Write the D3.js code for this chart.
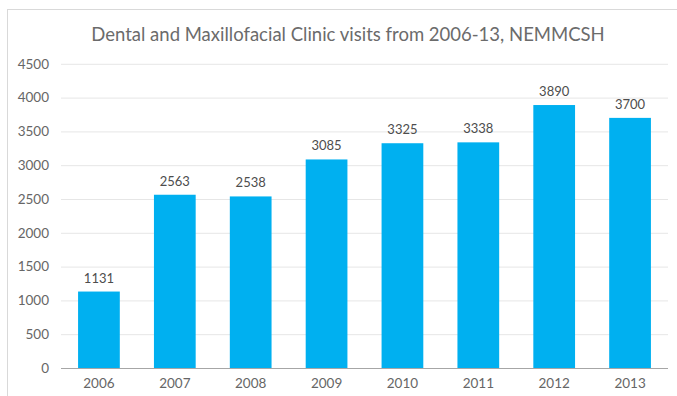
<!DOCTYPE html>
<html><head><meta charset="utf-8">
<script src="https://cdn.jsdelivr.net/npm/d3@7"></script>
<style>body{margin:0;background:#fff;}svg{display:block;}</style>
</head><body>
<svg id="c" width="677" height="396"></svg>
<script>
const categories = ["2006","2007","2008","2009","2010","2011","2012","2013"];
const visits = [1131,2563,2538,3085,3325,3338,3890,3700];
const yTicks = [0,500,1000,1500,2000,2500,3000,3500,4000,4500];
const title = "Dental and Maxillofacial Clinic visits from 2006-13, NEMMCSH";

const svg = d3.select("#c");
const font = "Lato, 'Open Sans', sans-serif";
const m = {left:61, right:668, top:63.8, bottom:368};

svg.append("rect").attr("x",7.5).attr("y",9.5).attr("width",700).attr("height",400)
  .attr("fill","none").attr("stroke","#d9d9d9");

const x = d3.scaleBand().domain(categories).range([m.left,m.right]).paddingInner(0.45).paddingOuter(0.225);
const y = d3.scaleLinear().domain([0,4500]).range([m.bottom,m.top]);

const yAxis = d3.axisLeft(y).tickValues(yTicks).tickFormat(d3.format("d")).tickSize(-(m.right-m.left)).tickPadding(12);
const gy = svg.append("g").attr("transform",`translate(${m.left},0)`).call(yAxis);
gy.select(".domain").remove();
gy.selectAll(".tick line").attr("stroke","#e6e6e6");
gy.selectAll(".tick text").attr("fill","#666").style("font-family",font).style("font-size","13.5px");

svg.append("g").selectAll("rect").data(visits).join("rect")
  .attr("x",(d,i)=>x(categories[i])).attr("width",x.bandwidth())
  .attr("y",d=>y(d)).attr("height",d=>y(0)-y(d)).attr("fill","#00b0f0");

const xAxis = d3.axisBottom(x).tickSize(0).tickPadding(10);
const gx = svg.append("g").attr("transform",`translate(0,${m.bottom})`).call(xAxis);
gx.select(".domain").attr("stroke","#a6a6a6").attr("d",`M${m.left},0.5H${m.right}`);
gx.selectAll(".tick text").attr("fill","#666").style("font-family",font).style("font-size","13.5px");

svg.append("g").selectAll("text").data(visits).join("text")
  .attr("x",(d,i)=>x(categories[i])+x.bandwidth()/2).attr("y",d=>y(d)-9)
  .attr("text-anchor","middle").attr("fill","#4d4d4d")
  .style("font-family",font).style("font-size","13px").text(d=>d);

svg.append("text").attr("x",348).attr("y",41).attr("text-anchor","middle")
  .attr("fill","#6b6b6b").style("font-family",font).style("font-size","18.5px").text(title);
</script>
</body></html>
